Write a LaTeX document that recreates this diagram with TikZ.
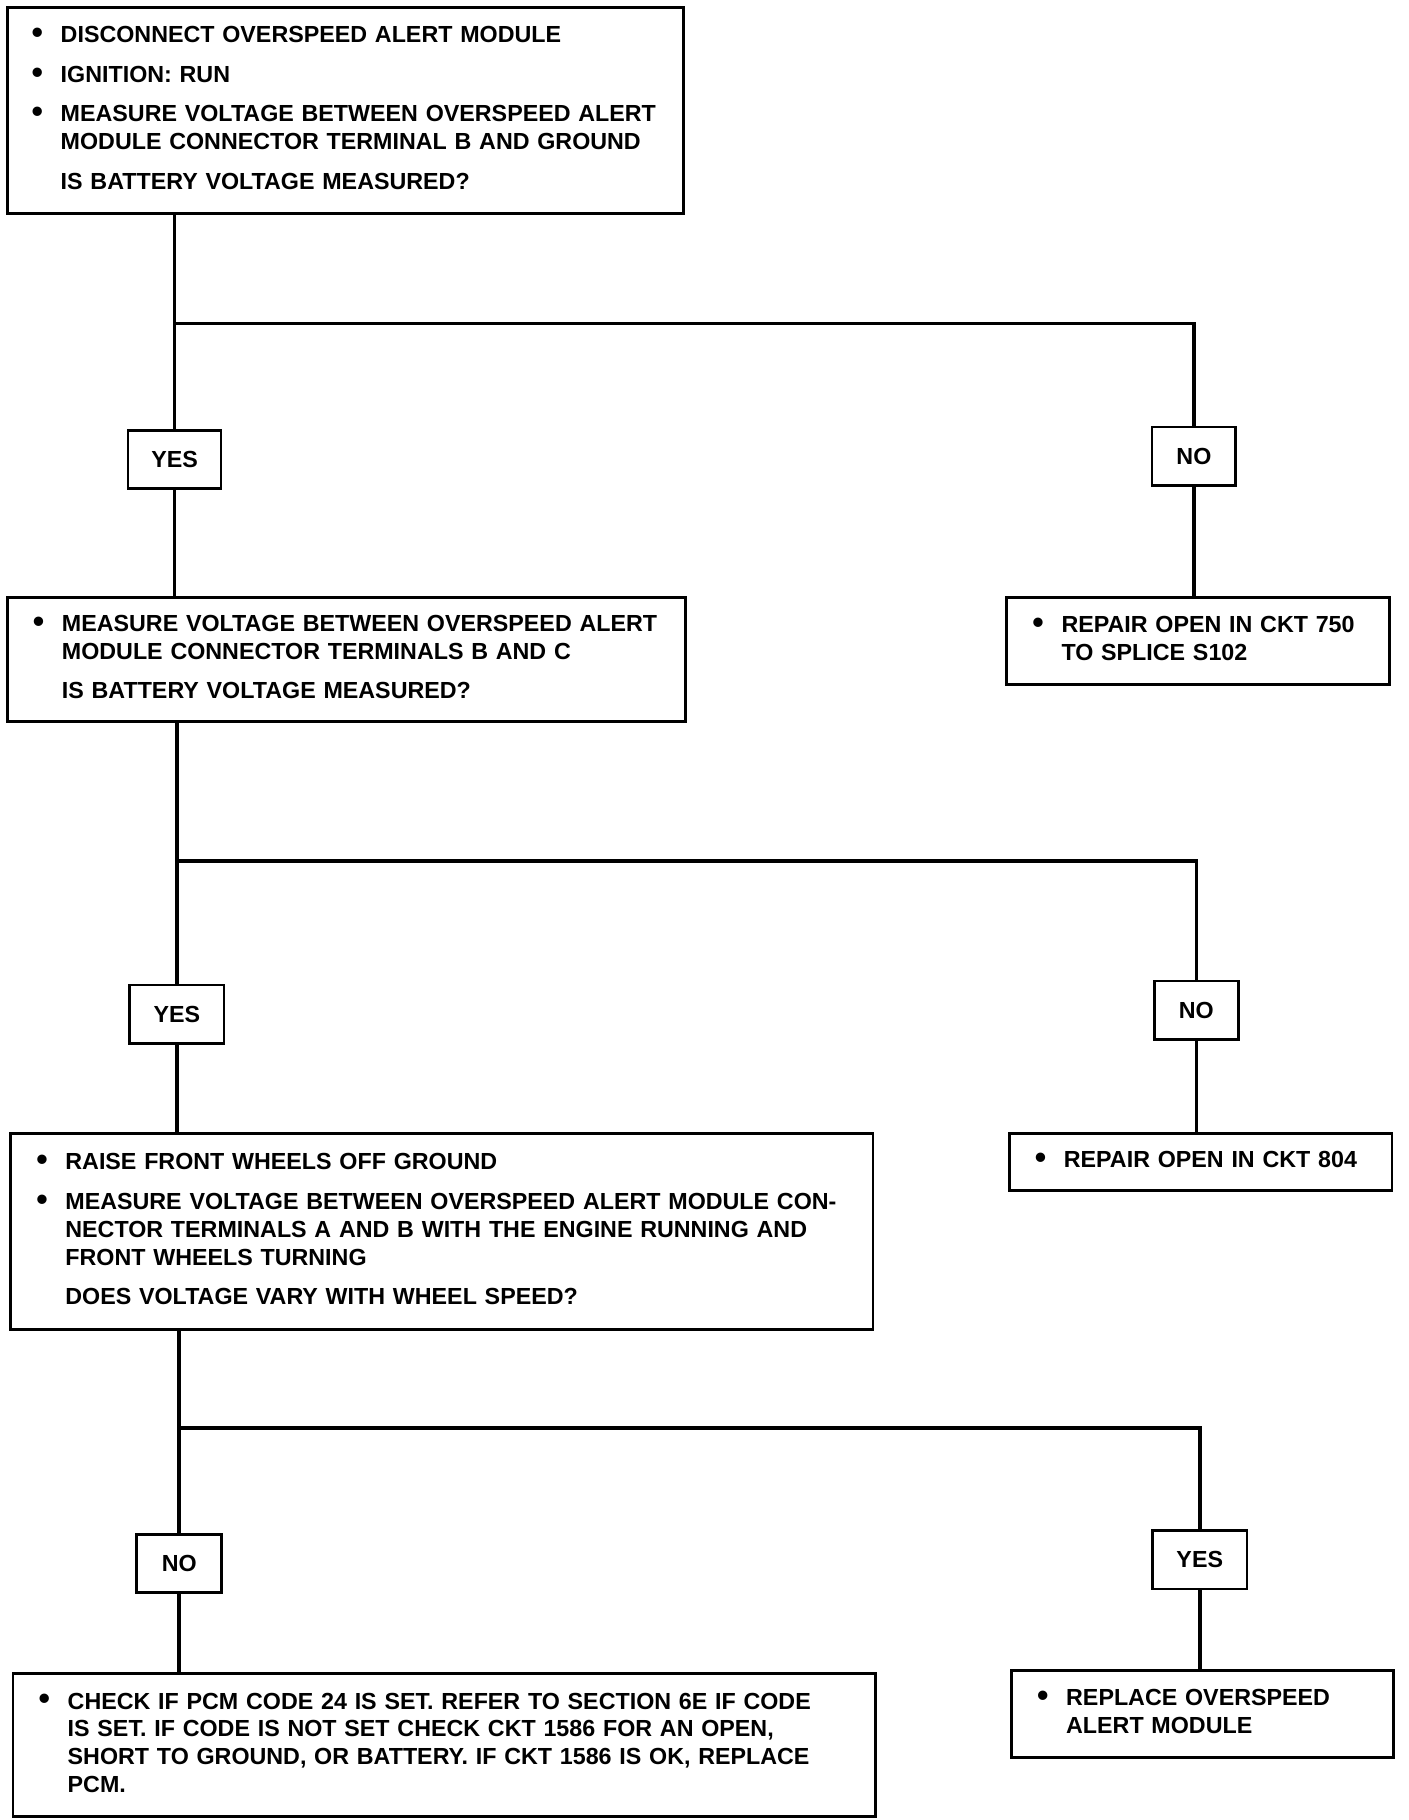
\documentclass[tikz,border=0pt]{standalone}
\usepackage{fontspec}
\setmainfont{Liberation Sans}
\usetikzlibrary{positioning}

% bullet item with hanging lines, plain question line, and the gap between them
\newcommand{\bulitem}[1]{\par\noindent\hangindent=12.5pt\hangafter=1%
    \makebox[12.5pt][l]{\raisebox{-0.4pt}{\fontsize{14}{12}\selectfont\textbullet}}{\let\\\newline #1}\par}
\newcommand{\askline}[1]{\par\noindent\hspace*{12.5pt}#1\par}
\newcommand{\gap}{\vspace{5pt}}
\newcommand{\boxlift}{\par\vspace{7pt}}

\begin{document}
\begin{tikzpicture}[
    x=0.5pt, y=-0.5pt,
    % GLOBAL CFG
    font=\fontsize{10}{12}\selectfont\bfseries,
    % Styles
    stepbox/.style={
        rectangle,
        draw,
        line width=1.2pt,
        anchor=north west,
        inner xsep=0pt,
        inner ysep=0pt,
        execute at begin node={\setlength{\parskip}{0pt}},
        execute at end node={\boxlift},
    },
    answer/.style={
        rectangle,
        draw,
        line width=1.2pt,
        minimum height=25pt,
        inner sep=0pt,
    },
    link/.style={
        line width=1.5pt,
    },
]
\useasboundingbox (0,0) rectangle (1210,1564);

% Draw the question boxes named q#
    \node [stepbox, execute at end node={}, minimum width=290.5pt, minimum height=88.5pt, text width=269.5pt] (q1) at (5,5) {%
        \bulitem{DISCONNECT OVERSPEED ALERT MODULE}\gap
        \bulitem{IGNITION: RUN}\gap
        \bulitem{MEASURE VOLTAGE BETWEEN OVERSPEED ALERT\\MODULE CONNECTOR TERMINAL B AND GROUND}\gap
        \askline{IS BATTERY VOLTAGE MEASURED?}};
    \node [stepbox, minimum width=291.5pt, minimum height=53.5pt, text width=269.5pt] (q2) at (5,512) {%
        \bulitem{MEASURE VOLTAGE BETWEEN OVERSPEED ALERT\\MODULE CONNECTOR TERMINALS B AND C}\gap
        \askline{IS BATTERY VOLTAGE MEASURED?}};
    \node [stepbox, minimum width=370.5pt, minimum height=84pt, text width=348.5pt] (q3) at (8,973) {%
        \bulitem{RAISE FRONT WHEELS OFF GROUND}\gap
        \bulitem{MEASURE VOLTAGE BETWEEN OVERSPEED ALERT MODULE CON-\\NECTOR TERMINALS A AND B WITH THE ENGINE RUNNING AND\\FRONT WHEELS TURNING}\gap
        \askline{DOES VOLTAGE VARY WITH WHEEL SPEED?}};

% Draw the end boxes
    \node [stepbox, minimum width=164.5pt, minimum height=37.5pt, text width=142.5pt] (open750) at (864,512) {%
        \bulitem{REPAIR OPEN IN CKT 750\\TO SPLICE S102}};
    \node [stepbox, minimum width=164.5pt, minimum height=24.5pt, text width=142.5pt] (open804) at (866,973) {%
        \bulitem{REPAIR OPEN IN CKT 804}};
    \node [stepbox, minimum width=370.5pt, minimum height=61.5pt, text width=348.5pt] (pcmcheck) at (10,1437) {%
        \bulitem{CHECK IF PCM CODE 24 IS SET. REFER TO SECTION 6E IF CODE\\IS SET. IF CODE IS NOT SET CHECK CKT 1586 FOR AN OPEN,\\SHORT TO GROUND, OR BATTERY. IF CKT 1586 IS OK, REPLACE\\PCM.}};
    \node [stepbox, minimum width=164pt, minimum height=37.5pt, text width=142pt] (replace) at (868,1434) {%
        \bulitem{REPLACE OVERSPEED\\ALERT MODULE}};

% Draw the answers named yes# and no#
    \node [answer, minimum width=40pt] (yes1) at (150,395) {YES};
    \node [answer, minimum width=36pt] (no1) at (1026,392) {NO};
    \node [answer, minimum width=40.5pt] (yes2) at (152,871.5) {YES};
    \node [answer, minimum width=36pt] (no2) at (1028,868) {NO};
    \node [answer, minimum width=36.5pt] (no3) at (154,1343.5) {NO};
    \node [answer, minimum width=40.5pt] (yes3) at (1031,1340.5) {YES};

    % Split points of the trunks
    \coordinate (split1) at (150,278);
    \coordinate (split2) at (152,740);
    \coordinate (split3) at (154,1227);

% Start connecting all.
    \draw [link] (q1.south -| yes1) -- (yes1.north);
    \draw [link] (split1) -| (no1.north);
    \draw [link] (yes1.south) -- (yes1 |- q2.north);
    \draw [link] (no1.south) -- (no1 |- open750.north);

    \draw [link] (q2.south -| yes2) -- (yes2.north);
    \draw [link] (split2) -| (no2.north);
    \draw [link] (yes2.south) -- (yes2 |- q3.north);
    \draw [link] (no2.south) -- (no2 |- open804.north);

    \draw [link] (q3.south -| no3) -- (no3.north);
    \draw [link] (split3) -| (yes3.north);
    \draw [link] (no3.south) -- (no3 |- pcmcheck.north);
    \draw [link] (yes3.south) -- (yes3 |- replace.north);

\end{tikzpicture}
\end{document}
